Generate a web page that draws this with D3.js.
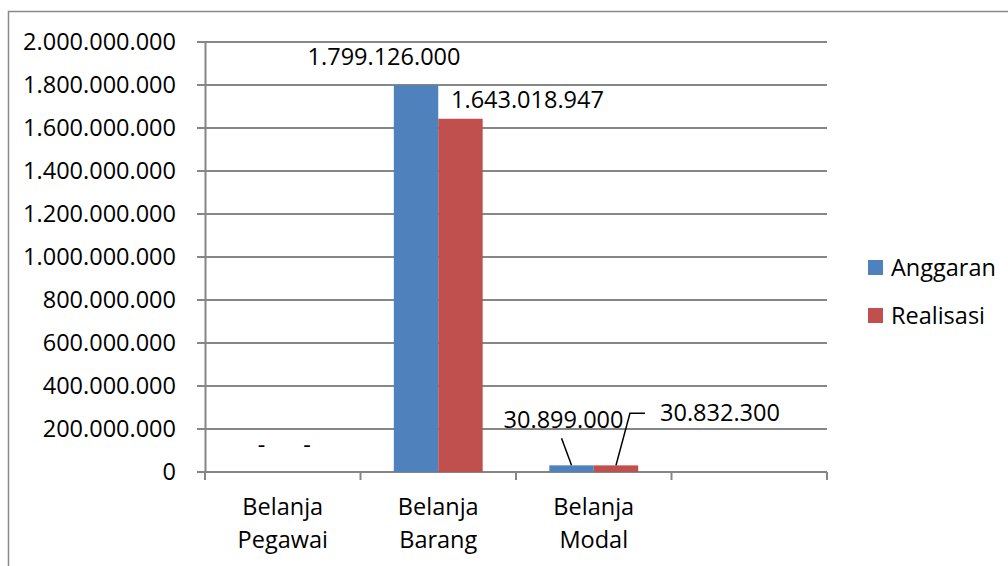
<!DOCTYPE html>
<html>
<head>
<meta charset="utf-8">
<script src="https://cdn.jsdelivr.net/npm/d3@7"></script>
<style>
  body { margin: 0; background: #fff; }
  text { font-family: "Open Sans", sans-serif; font-size: 23.5px; fill: #000; }
</style>
</head>
<body>
<svg id="chart" width="1008" height="566"></svg>
<script>
// chart data
const categories = ["Belanja Pegawai", "Belanja Barang", "Belanja Modal", ""];
const series = ["Anggaran", "Realisasi"];
const anggaran = [0, 1799126000, 30899000, null];
const realisasi = [0, 1643018947, 30832300, null];
const yTicks = [0, 200000000, 400000000, 600000000, 800000000, 1000000000,
                1200000000, 1400000000, 1600000000, 1800000000, 2000000000];

const colors = { "Anggaran": "#4F81BD", "Realisasi": "#C0504D" };
const values = { "Anggaran": anggaran, "Realisasi": realisasi };

const svg = d3.select("#chart");

// outer chart frame (right/bottom edges fall outside the window)
svg.append("rect").attr("x", 8.5).attr("y", 11.5).attr("width", 1100).attr("height", 600)
  .attr("fill", "none").attr("stroke", "#898989").attr("stroke-width", 1.5);

const plotL = 205, plotR = 827, plotT = 42, plotB = 472;

const x = d3.scaleBand().domain(categories).range([plotL, plotR]);
const x1 = d3.scaleBand().domain(series).range([0, x.bandwidth()]).paddingOuter(0.75);
const y = d3.scaleLinear().domain([0, 2000000000]).range([plotB, plotT]);

const loc = d3.formatLocale({ decimal: ",", thousands: ".", grouping: [3], currency: ["", ""] });
const fmt = v => v === 0 ? "-" : loc.format(",")(v);

// gridlines
svg.append("g").selectAll("line").data(yTicks).join("line")
  .attr("x1", plotL - 8).attr("x2", plotR)
  .attr("y1", d => y(d)).attr("y2", d => y(d))
  .attr("stroke", "#868686").attr("stroke-width", 2);

// y axis
const yAxis = svg.append("g").attr("transform", `translate(${plotL},0)`)
  .call(d3.axisLeft(y).tickValues(yTicks).tickSize(0).tickPadding(29).tickFormat(d => loc.format(",")(d)));
yAxis.select(".domain").attr("stroke", "#868686").attr("stroke-width", 2);
yAxis.selectAll("text").style("font-family", "Open Sans").style("font-size", "23.5px").attr("fill", "#000");

// x axis category ticks
const bounds = categories.map(c => x(c)).concat([plotR]);
svg.append("g").selectAll("line").data(bounds).join("line")
  .attr("x1", d => d).attr("x2", d => d).attr("y1", plotB).attr("y2", plotB + 8)
  .attr("stroke", "#868686").attr("stroke-width", 2);

// category labels (two lines)
const cl = svg.append("g").selectAll("text").data(categories.filter(c => c)).join("text")
  .attr("text-anchor", "middle")
  .attr("x", d => x(d) + x.bandwidth() / 2)
  .attr("y", plotB + 43);
cl.each(function (d) {
  const words = d.split(" ");
  const t = d3.select(this);
  words.forEach((w, i) => {
    t.append("tspan").attr("x", x(d) + x.bandwidth() / 2).attr("dy", i === 0 ? 0 : 33).text(w);
  });
});

// bars
series.forEach(s => {
  svg.append("g").selectAll("rect")
    .data(categories.map((c, i) => ({ c, v: values[s][i] })).filter(d => d.v))
    .join("rect")
    .attr("x", d => x(d.c) + x1(s))
    .attr("width", x1.bandwidth())
    .attr("y", d => y(d.v))
    .attr("height", d => y(0) - y(d.v))
    .attr("fill", colors[s]);
});

// data labels: offsets from bar top-centre
const labelPos = {
  "Anggaran":  [[1, -27], [-32, -28], [-8, -46]],
  "Realisasi": [[2, -27], [67, -19], [104, -53]]
};
series.forEach(s => {
  categories.forEach((c, i) => {
    const v = values[s][i];
    if (v === null) return;
    const cx = x(c) + x1(s) + x1.bandwidth() / 2;
    const ty = y(v);
    const [dx, dy] = labelPos[s][i];
    svg.append("text").attr("text-anchor", "middle")
      .attr("x", cx + dx).attr("y", ty + dy).attr("dy", "0.35em")
      .text(fmt(v));
  });
});

// leader lines for the small Modal bars
const mA = x("Belanja Modal") + x1("Anggaran") + x1.bandwidth() / 2;
const mR = x("Belanja Modal") + x1("Realisasi") + x1.bandwidth() / 2;
const mTop = y(anggaran[2]);
svg.append("path").attr("d", `M${mA - 10},${mTop - 27}L${mA},${mTop}`)
  .attr("stroke", "#000").attr("stroke-width", 1.5).attr("fill", "none");
svg.append("path").attr("d", `M${mR},${mTop}L${mR + 14},${mTop - 52}L${mR + 29},${mTop - 52}`)
  .attr("stroke", "#000").attr("stroke-width", 1.5).attr("fill", "none");

// legend
const lg = svg.append("g").selectAll("g").data(series).join("g")
  .attr("transform", (d, i) => `translate(868,${260 + i * 48})`);
lg.append("rect").attr("width", 15).attr("height", 15).attr("fill", d => colors[d]);
lg.append("text").attr("x", 23).attr("y", 7.5).attr("dy", "0.35em").text(d => d);
</script>
</body>
</html>
